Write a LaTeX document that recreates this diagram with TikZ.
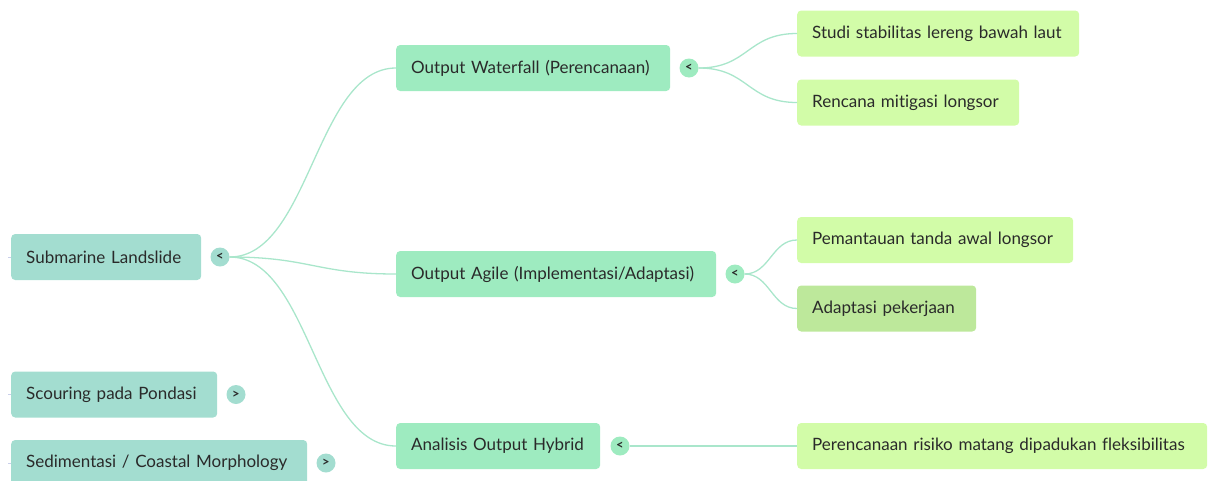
\documentclass[tikz,border=0pt]{standalone}
\usepackage{fontspec}
\setmainfont[Ligatures={NoCommon,NoRare}]{Lato}
\definecolor{tealbox}{HTML}{A3DDD0}
\definecolor{mintbox}{HTML}{9EEBC0}
\definecolor{limebox}{HTML}{D2FCA8}
\definecolor{limedark}{HTML}{BDE89B}
\definecolor{linkc}{HTML}{A9E6CB}
\definecolor{stubc}{HTML}{C9CFEA}
\definecolor{txt}{HTML}{2A2A2A}
\begin{document}
\begin{tikzpicture}[x=1pt,y=-1pt,
  box/.style={anchor=west, rounded corners=4pt, inner xsep=15pt, inner ysep=0pt,
    minimum height=46pt, align=left, text=txt, font=\fontsize{17}{19}\selectfont},
  lvlone/.style={box, fill=tealbox},
  lvltwo/.style={box, fill=mintbox},
  lvlthree/.style={box, fill=limebox},
  toggle/.style={circle, minimum size=19pt, inner sep=0pt, text=txt,
    font=\fontsize{13}{13}\selectfont\bfseries},
  link/.style={draw=linkc, line width=1.3pt},
  stub/.style={draw=stubc, line width=0.8pt}]
\useasboundingbox (0,0) rectangle (1210,480);

% first level
\node[lvlone, text width=160pt] (sub) at (11,257) {Submarine Landslide};
\node[lvlone, text width=176pt] (sco) at (11,394.5) {Scouring pada Pondasi};
\node[lvlone, text width=266pt] (sed) at (11,463) {Sedimentasi / Coastal Morphology};
\node[toggle, fill=tealbox] (tsub) at (220,257) {<};
\node[toggle, fill=tealbox] (tsco) at (236,394.5) {>};
\node[toggle, fill=tealbox] (tsed) at (326,463) {>};

% stubs from the parent outside the frame
\coordinate (s1) at (8,257);
\coordinate (s2) at (8,394.5);
\coordinate (s3) at (8,463);
\draw[stub] (s1) -- (sub.west);
\draw[stub] (s2) -- (sco.west);
\draw[stub] (s3) -- (sed.west);

% second level
\node[lvltwo, text width=244pt] (wat) at (396,68) {Output Waterfall (Perencanaan)};
\node[lvltwo, text width=290pt] (agi) at (396,274) {Output Agile (Implementasi/Adaptasi)};
\node[lvltwo, text width=174pt] (hyb) at (396,446) {Analisis Output Hybrid};
\node[toggle, fill=mintbox] (twat) at (689,68) {<};
\node[toggle, fill=mintbox] (tagi) at (735,274) {<};
\node[toggle, fill=mintbox] (thyb) at (620,446) {<};

% third level
\node[lvlthree, text width=252pt] (stu) at (797,33.5) {Studi stabilitas lereng bawah laut};
\node[lvlthree, text width=192pt] (ren) at (797,102.5) {Rencana mitigasi longsor};
\node[lvlthree, text width=246pt] (pem) at (797,240) {Pemantauan tanda awal longsor};
\node[box, fill=limedark, text width=149pt] (ada) at (797,308.5) {Adaptasi pekerjaan};
\node[lvlthree, text width=380pt] (per) at (797,446) {Perencanaan risiko matang dipadukan fleksibilitas};

% connectors
\draw[link] (tsub.east) .. controls +(80,0) and +(-80,0) .. (wat.west);
\draw[link] (tsub.east) .. controls +(80,0) and +(-80,0) .. (agi.west);
\draw[link] (tsub.east) .. controls +(80,0) and +(-80,0) .. (hyb.west);
\draw[link] (twat.east) .. controls +(50,0) and +(-50,0) .. (stu.west);
\draw[link] (twat.east) .. controls +(50,0) and +(-50,0) .. (ren.west);
\draw[link] (tagi.east) .. controls +(25,0) and +(-25,0) .. (pem.west);
\draw[link] (tagi.east) .. controls +(25,0) and +(-25,0) .. (ada.west);
\draw[link] (thyb.east) -- (per.west);
\end{tikzpicture}
\end{document}
